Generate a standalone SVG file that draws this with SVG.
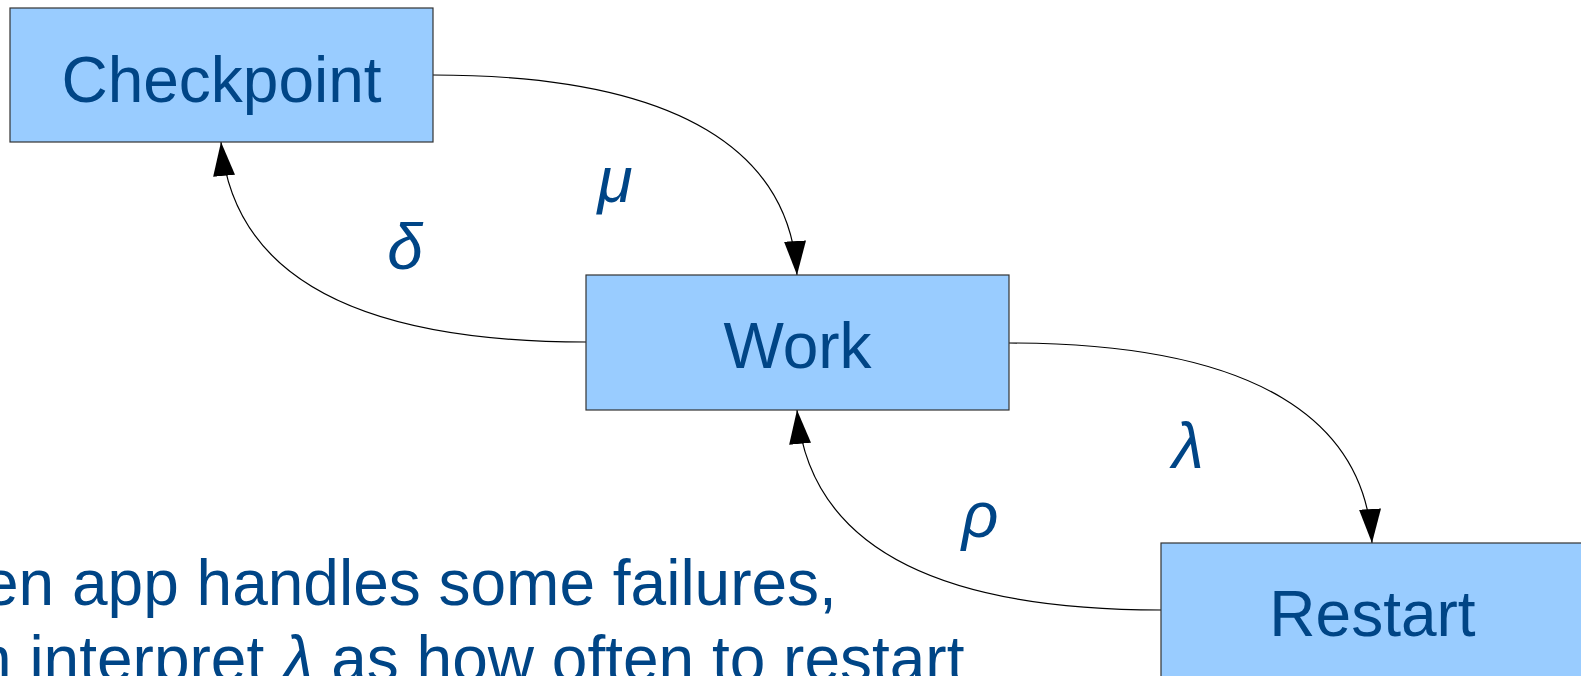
<svg xmlns="http://www.w3.org/2000/svg" width="1581" height="676" viewBox="0 0 1581 676">
<defs>
<style>
.box{fill:#99ccff;stroke:#333333;stroke-width:1.2}
.lbl{font-family:"Liberation Sans",Arial,sans-serif;font-size:64px;fill:#004586;text-anchor:middle}
.greek{font-family:"Liberation Sans",Arial,sans-serif;font-size:64px;fill:#004586;font-style:italic;text-anchor:middle}
.note{font-family:"Liberation Sans",Arial,sans-serif;font-size:64px;fill:#004586}
.conn{fill:none;stroke:#000000;stroke-width:1.2}
</style>
<marker id="arr" markerUnits="userSpaceOnUse" markerWidth="34" markerHeight="22" viewBox="0 0 34 22" refX="34" refY="11" orient="auto">
<path d="M0,0 L34,11 L0,22 z" fill="#000000"/>
</marker>
</defs>
<rect width="1581" height="676" fill="#ffffff"/>
<g id="connectors">
<path class="conn" d="M433,75 C685,75 790,155 797,275" marker-end="url(#arr)"/>
<path class="conn" d="M586,342 C334,342 232,262 221,142" marker-end="url(#arr)"/>
<path class="conn" d="M1009,343 C1261,343 1365,423 1372,543" marker-end="url(#arr)"/>
<path class="conn" d="M1161,610 C909,610 808,530 797,410" marker-end="url(#arr)"/>
</g>
<g id="node-checkpoint">
<rect class="box" x="10" y="8" width="423" height="134"/>
<text class="lbl" x="221.5" y="102">Checkpoint</text>
</g>
<g id="node-work">
<rect class="box" x="586" y="275" width="423" height="135"/>
<text class="lbl" x="797.5" y="368">Work</text>
</g>
<g id="node-restart">
<rect class="box" x="1161" y="543" width="423" height="140"/>
<text class="lbl" x="1372.5" y="636">Restart</text>
</g>
<g id="labels">
<text class="greek" x="615" y="202">μ</text>
<text class="greek" x="405" y="269">δ</text>
<text class="greek" x="1188" y="468">λ</text>
<text class="greek" x="980" y="537">ρ</text>
</g>
<g id="note">
<text class="note" x="-17" y="605">en app handles some failures,</text>
<text class="note" x="-24" y="681">n interpret <tspan font-style="italic">λ</tspan> as how often to restart</text>
</g>
</svg>
